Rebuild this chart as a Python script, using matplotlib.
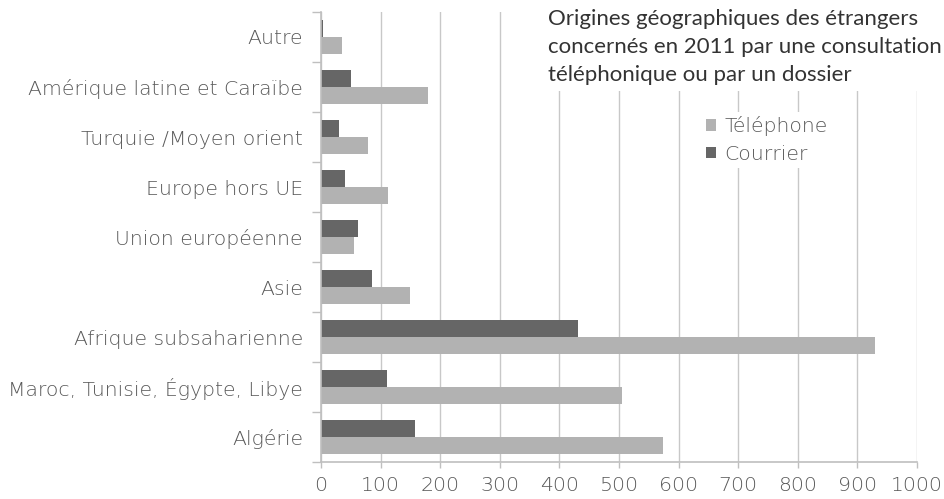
import numpy as np
import matplotlib.pyplot as plt
from matplotlib.patches import Patch

# categories from bottom to top
categories = ["Algérie", "Maroc, Tunisie, Égypte, Libye", "Afrique subsaharienne",
              "Asie", "Union européenne", "Europe hors UE", "Turquie /Moyen orient",
              "Amérique latine et Caraïbe", "Autre"]
telephone = [574, 505, 930, 150, 56, 112, 79, 180, 35]
courrier = [158, 111, 431, 86, 62, 41, 31, 51, 3]

col_tel = "#b2b2b2"
col_cou = "#666666"
txt_col = "#595959"
font = "DejaVu Sans"
fw = "light"
fs = 14.7

fig = plt.figure(figsize=(9.44, 4.99), dpi=100)
ax = fig.add_axes([0.340, 0.074, 0.6314, 0.902])

y = np.arange(len(categories))
h = 0.335
ax.barh(y - h/2, telephone, height=h, color=col_tel, zorder=2)
ax.barh(y + h/2, courrier, height=h, color=col_cou, zorder=2)

ax.set_xlim(0, 1000)
ax.set_ylim(-0.5, len(categories) - 0.5)
ax.set_xticks(np.arange(0, 1001, 100))
ax.set_yticks(y)
ax.set_yticklabels(categories)
ax.set_yticks(np.arange(-0.5, len(categories)), minor=True)
ax.tick_params(axis="y", which="major", length=0, pad=13, labelsize=fs, labelcolor=txt_col)
ax.tick_params(axis="y", which="minor", length=6.5, color="#bfbfbf", width=1)
ax.tick_params(axis="x", which="major", length=4, color="#bfbfbf", width=1, pad=6,
               labelsize=fs, labelcolor=txt_col)
for lab in ax.get_xticklabels() + ax.get_yticklabels():
    lab.set_fontfamily(font)
    lab.set_fontweight(fw)

ax.grid(axis="x", color="#c8c8c8", linewidth=1, zorder=0)
ax.set_axisbelow(True)
for s in ["top", "right"]:
    ax.spines[s].set_visible(False)
ax.spines["left"].set_color("#bfbfbf")
ax.spines["bottom"].set_color("#bfbfbf")
ax.spines["left"].set_linewidth(1.2)
ax.spines["bottom"].set_linewidth(1.2)

# title inside plot area, white box over the gridlines
fig.text(0.581, 0.981, "Origines géographiques des étrangers\nconcernés en 2011 par une consultation\ntéléphonique ou par un dossier",
         ha="left", va="top", fontsize=16, color="#333333", fontfamily="Lato",
         linespacing=1.5, zorder=5,
         bbox=dict(facecolor="white", edgecolor="none", pad=4))

handles = [Patch(facecolor=col_tel, label="Téléphone"),
           Patch(facecolor=col_cou, label="Courrier")]
leg = ax.legend(handles=handles, loc="upper left", bbox_to_anchor=(0.622, 0.80),
                frameon=True, fancybox=False, edgecolor="none", framealpha=1,
                handlelength=0.5, handleheight=0.5, handletextpad=0.4,
                labelspacing=0.42, borderpad=0.2,
                prop={"family": font, "size": fs, "weight": fw})
for t in leg.get_texts():
    t.set_color(txt_col)

fig.savefig("out.png", dpi=100)
